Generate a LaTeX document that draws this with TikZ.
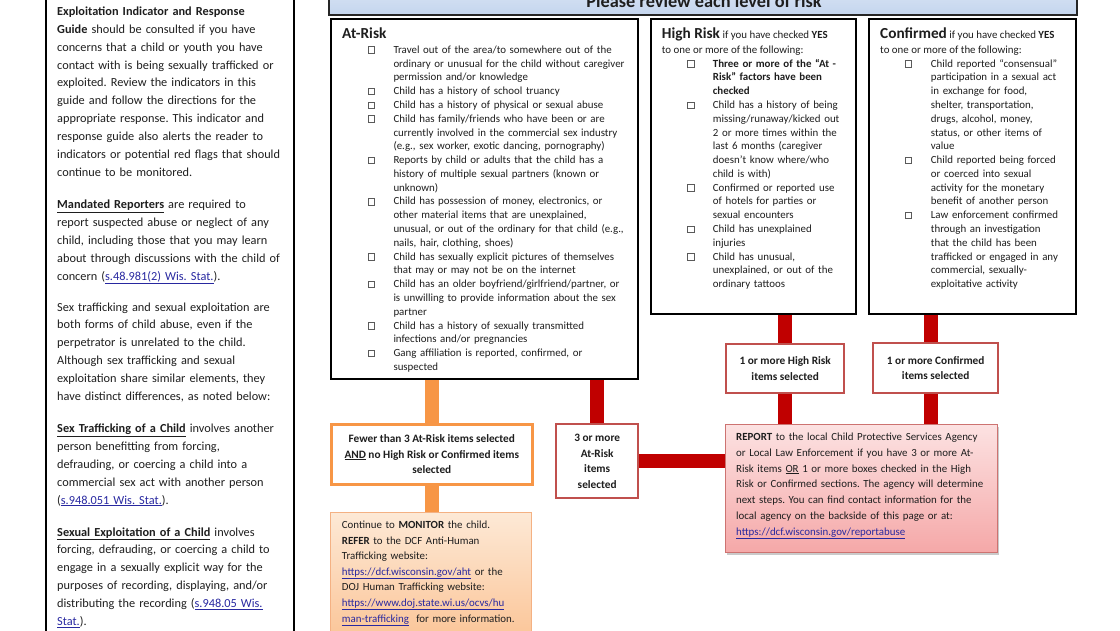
\documentclass[tikz,border=0pt]{standalone}
\usepackage{fontspec}
\setmainfont{Carlito}
\usetikzlibrary{backgrounds,shadows}
\definecolor{linkblue}{RGB}{40,40,160}
\definecolor{barorange}{RGB}{247,150,70}
\definecolor{barred}{RGB}{192,0,0}
\definecolor{boxred}{RGB}{192,80,77}
\definecolor{chkgray}{RGB}{90,90,90}
\definecolor{txt}{RGB}{30,30,30}
\definecolor{bannertop}{RGB}{225,233,246}
\definecolor{bannerbot}{RGB}{196,213,238}
\definecolor{montop}{RGB}{253,233,214}
\definecolor{monbot}{RGB}{251,196,150}
\definecolor{monedge}{RGB}{244,177,131}
\definecolor{reptop}{RGB}{252,226,226}
\definecolor{repbot}{RGB}{245,168,168}
\newcommand{\myul}[1]{\underline{#1}}
\newcommand{\lnk}[1]{\textcolor{linkblue}{\underline{#1}}}
\newcommand{\fs}[2]{\fontsize{#1}{#2}\selectfont}
\frenchspacing
\begin{document}
\begin{tikzpicture}[x=1pt,y=-1pt,
  every node/.style={inner sep=0pt, text=txt},
  blackbox/.style={draw=black, line width=2.4pt, fill=white, rectangle, anchor=north west},
  redsel/.style={draw=boxred, line width=2.4pt, fill=white, rectangle, anchor=north west, align=center, font=\bfseries\fs{11.3}{15.7}},
  orangesel/.style={draw=barorange, line width=2.6pt, fill=white, rectangle, anchor=north west, align=center, font=\bfseries\fs{11.3}{15.7}},
  lefttext/.style={anchor=base west, align=left, text width=300pt, font=\fs{12.3}{17.84}},
  itemtext/.style={anchor=base west, align=left, text width=300pt, font=\fs{10.9}{13.78}},
  titletext/.style={anchor=base west, font=\fs{10.9}{13.78}},
  flowtext/.style={anchor=base west, align=left, text width=300pt, font=\fs{10.9}{15.6}},
  chk/.style={draw=chkgray, line width=0.6pt, rectangle, minimum width=6.5pt, minimum height=6.5pt, fill=white},
  obar/.style={draw=barorange, line width=14pt},
  rbar/.style={draw=barred, line width=14pt},
]
\useasboundingbox (0,0) rectangle (1120,630);
\clip (0,0) rectangle (1120,630);

% left column
\node[blackbox, fill=none, minimum width=248pt, minimum height=680pt] (leftcol) at (45,-20) {};
\node[lefttext] (p1) at (57,15.5) {\textbf{Exploitation Indicator and Response}\\
\textbf{Guide} should be consulted if you have\\
concerns that a child or youth you have\\
contact with is being sexually trafficked or\\
exploited. Review the indicators in this\\
guide and follow the directions for the\\
appropriate response. This indicator and\\
response guide also alerts the reader to\\
indicators or potential red flags that should\\
continue to be monitored.};
\node[lefttext] (p2) at (57,208.8) {\myul{\textbf{Mandated Reporters}} are required to\\
report suspected abuse or neglect of any\\
child, including those that you may learn\\
about through discussions with the child of\\
concern (\lnk{s.48.981(2) Wis. Stat.}).};
\node[lefttext] (p3) at (57,311) {Sex trafficking and sexual exploitation are\\
both forms of child abuse, even if the\\
perpetrator is unrelated to the child.\\
Although sex trafficking and sexual\\
exploitation share similar elements, they\\
have distinct differences, as noted below:};
\node[lefttext] (p4) at (57,432.8) {\myul{\textbf{Sex Trafficking of a Child}} involves another\\
person benefitting from forcing,\\
defrauding, or coercing a child into a\\
commercial sex act with another person\\
(\lnk{s.948.051 Wis. Stat.}).};
\node[lefttext] (p5) at (57,536) {\myul{\textbf{Sexual Exploitation of a Child}} involves\\
forcing, defrauding, or coercing a child to\\
engage in a sexually explicit way for the\\
purposes of recording, displaying, and/or\\
distributing the recording (\lnk{s.948.05 Wis.}\\
\lnk{Stat.}).};

% header banner
\node[draw=black!85, line width=1.6pt, top color=bannertop, bottom color=bannerbot, rectangle, anchor=south west, minimum width=748pt, minimum height=40pt] (hdr) at (328,16) {};
\node[anchor=base, font=\bfseries\fs{18.3}{22}] (hdrtxt) at (704,7) {Please review each level of risk};

% three risk boxes
\node[blackbox, minimum width=307pt, minimum height=360pt] (atrisk) at (330,18) {};
\node[blackbox, minimum width=205pt, minimum height=295pt] (hr) at (650,18) {};
\node[blackbox, minimum width=207pt, minimum height=295pt] (cf) at (868,18) {};

% At-Risk
\node[titletext] (artitle) at (342,38.5) {{\bfseries\fs{15.3}{18}At-Risk}};
\node[itemtext] (aritems) at (393.3,53.4) {Travel out of the area/to somewhere out of the\\
ordinary or unusual for the child without caregiver\\
permission and/or knowledge\\
Child has a history of school truancy\\
Child has a history of physical or sexual abuse\\
Child has family/friends who have been or are\\
currently involved in the commercial sex industry\\
(e.g., sex worker, exotic dancing, pornography)\\
Reports by child or adults that the child has a\\
history of multiple sexual partners (known or\\
unknown)\\
Child has possession of money, electronics, or\\
other material items that are unexplained,\\
unusual, or out of the ordinary for that child (e.g.,\\
nails, hair, clothing, shoes)\\
Child has sexually explicit pictures of themselves\\
that may or may not be on the internet\\
Child has an older boyfriend/girlfriend/partner, or\\
is unwilling to provide information about the sex\\
partner\\
Child has a history of sexually transmitted\\
infections and/or pregnancies\\
Gang affiliation is reported, confirmed, or\\
suspected};
\foreach \n in {1,4,5,6,9,12,16,18,21,23}
  \node[chk] (chkA\n) at (371.5,{50+(\n-1)*13.78}) {};

% High Risk
\node[titletext] (hrtitle) at (661.7,38.5) {{\bfseries\fs{15.3}{18}High Risk} if you have checked \textbf{YES}};
\node[titletext] (hrsub) at (661.7,53.4) {to one or more of the following:};
\node[itemtext] (hritems) at (712.7,67.18) {\textbf{Three or more of the “At -}\\
\textbf{Risk” factors have been}\\
\textbf{checked}\\
Child has a history of being\\
missing/runaway/kicked out\\
2 or more times within the\\
last 6 months (caregiver\\
doesn’t know where/who\\
child is with)\\
Confirmed or reported use\\
of hotels for parties or\\
sexual encounters\\
Child has unexplained\\
injuries\\
Child has unusual,\\
unexplained, or out of the\\
ordinary tattoos};
\foreach \n in {2,5,11,14,16}
  \node[chk] (chkH\n) at (690.7,{50+(\n-1)*13.78}) {};

% Confirmed
\node[titletext] (cftitle) at (880,38.5) {{\bfseries\fs{15.3}{18}Confirmed} if you have checked \textbf{YES}};
\node[titletext] (cfsub) at (880,53.4) {to one or more of the following:};
\node[itemtext] (cfitems) at (930.7,67.18) {Child reported “consensual”\\
participation in a sexual act\\
in exchange for food,\\
shelter, transportation,\\
drugs, alcohol, money,\\
status, or other items of\\
value\\
Child reported being forced\\
or coerced into sexual\\
activity for the monetary\\
benefit of another person\\
Law enforcement confirmed\\
through an investigation\\
that the child has been\\
trafficked or engaged in any\\
commercial, sexually-\\
exploitative activity};
\foreach \n in {2,9,13}
  \node[chk] (chkC\n) at (908.3,{50+(\n-1)*13.78}) {};

% decision boxes
\node[orangesel, minimum width=201pt, minimum height=60pt] (fewer) at (330,423) {Fewer than 3 At-Risk items selected\\ \myul{AND} no High Risk or Confirmed items\\ selected};
\node[redsel, minimum width=82pt, minimum height=74pt] (three) at (555,423) {3 or more\\ At-Risk\\ items\\ selected};
\node[redsel, minimum width=118pt, minimum height=49pt] (hrsel) at (725,343) {1 or more High Risk\\ items selected};
\node[redsel, minimum width=125pt, minimum height=50pt] (cfsel) at (872,342) {1 or more Confirmed\\ items selected};

% action boxes
\node[draw=monedge, line width=0.8pt, top color=montop, bottom color=monbot, rectangle, anchor=north west, minimum width=201pt, minimum height=130pt] (monitor) at (330,512) {};
\node[flowtext] (montxt) at (341.7,528.4) {Continue to \textbf{MONITOR} the child.\\
\textbf{REFER} to the DCF Anti-Human\\
Trafficking website:\\
\lnk{https://dcf.wisconsin.gov/aht} or the\\
DOJ Human Trafficking website:\\
\lnk{https://www.doj.state.wi.us/ocvs/hu}\\
\lnk{man-trafficking}\ \ for more information.};

\node[draw=boxred!80, line width=0.8pt, top color=reptop, bottom color=repbot, rectangle, anchor=north west, minimum width=272pt, minimum height=128pt, drop shadow={shadow xshift=1.5pt, shadow yshift=-2.5pt, opacity=0.35, fill=black!60}] (report) at (725,424) {};
\node[flowtext, font=\fs{10.9}{15.83}] (reptxt) at (736,440.4) {\textbf{REPORT} to the local Child Protective Services Agency\\
or Local Law Enforcement if you have 3 or more At-\\
Risk items \myul{OR} 1 or more boxes checked in the High\\
Risk or Confirmed sections. The agency will determine\\
next steps. You can find contact information for the\\
local agency on the backside of this page or at:\\
\lnk{https://dcf.wisconsin.gov/reportabuse}};

\coordinate (cfx) at (931,0);

% connectors
\begin{pgfonlayer}{background}
\draw[obar] (atrisk.south -| fewer.north) -- (fewer.north);
\draw[obar] (fewer.south) -- (monitor.north -| fewer.south);
\draw[rbar] (atrisk.south -| three.north) -- (three.north);
\draw[rbar] (three.east) -- (three.east -| report.west);
\draw[rbar] (hr.south -| hrsel.north) -- (hrsel.north);
\draw[rbar] (hrsel.south) -- (report.north -| hrsel.south);
\draw[rbar] (cf.south -| cfx) -- (cfsel.north -| cfx);
\draw[rbar] (cfsel.south -| cfx) -- (report.north -| cfx);
\end{pgfonlayer}
\end{tikzpicture}
\end{document}
